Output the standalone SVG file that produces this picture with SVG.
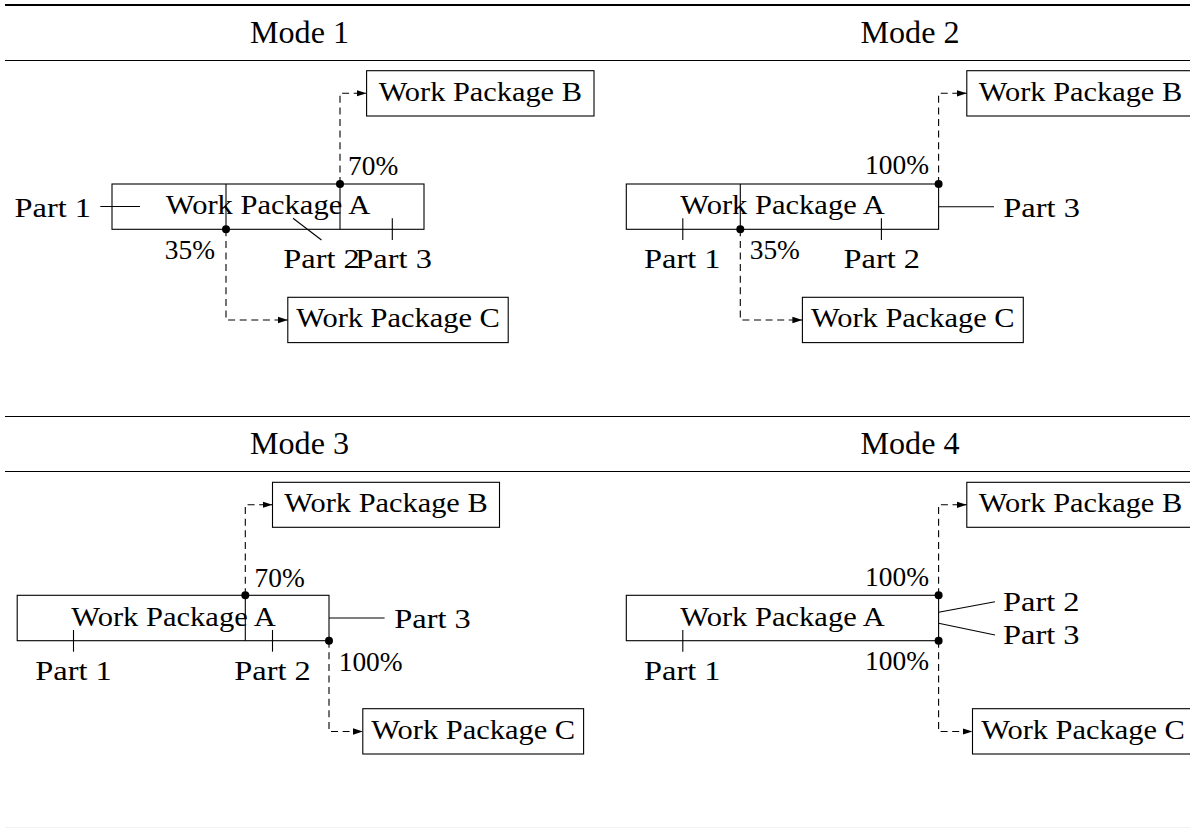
<svg xmlns="http://www.w3.org/2000/svg" width="1190" height="828" viewBox="0 0 1190 828">
  <style>
    .bg { fill: #ffffff; }
    .rule { stroke: #000; fill: none; }
    .box { fill: none; stroke: #000; stroke-width: 1.1; }
    .ln { fill: none; stroke: #000; stroke-width: 1.1; }
    .dash { fill: none; stroke: #000; stroke-width: 1.1; stroke-dasharray: 7 4.6; marker-end: url(#arr); }
    .dot { fill: #000; }
    text { font-family: "Liberation Serif", "DejaVu Serif", serif; fill: #000; }
    .t { font-size: 28px; }
    .h { font-size: 31px; }
    .m { text-anchor: middle; }
    .e { text-anchor: end; }
  </style>
  <defs>
    <marker id="arr" markerUnits="userSpaceOnUse" markerWidth="11" markerHeight="8" refX="10" refY="4" orient="auto">
      <path d="M0,0.8 L10,4 L0,7.2 Z" fill="#000"/>
    </marker>
  </defs>

  <rect class="bg" x="0" y="0" width="1190" height="828"/>

  <!-- table rules -->
  <g id="rules">
    <line class="rule" x1="5" y1="5" x2="1190" y2="5" stroke-width="2"/>
    <line class="rule" x1="5" y1="60.5" x2="1190" y2="60.5" stroke-width="1.2"/>
    <line class="rule" x1="5" y1="416.5" x2="1190" y2="416.5" stroke-width="1.2"/>
    <line class="rule" x1="5" y1="471.5" x2="1190" y2="471.5" stroke-width="1.2"/>
    <line x1="5" y1="827.5" x2="1190" y2="827.5" stroke="#f2f2f2" stroke-width="1"/>
  </g>

  <!-- headings -->
  <g id="headings">
    <text class="h m" x="299.5" y="43.3" textLength="99" lengthAdjust="spacingAndGlyphs">Mode 1</text>
    <text class="h m" x="910" y="43.3" textLength="99" lengthAdjust="spacingAndGlyphs">Mode 2</text>
    <text class="h m" x="299.5" y="454.3" textLength="99" lengthAdjust="spacingAndGlyphs">Mode 3</text>
    <text class="h m" x="910" y="454.3" textLength="99" lengthAdjust="spacingAndGlyphs">Mode 4</text>
  </g>

  <!-- ===== Mode 1 ===== -->
  <g id="m1-wpA">
    <rect class="box" x="112" y="184" width="312" height="45.3"/>
    <line class="ln" x1="226" y1="184" x2="226" y2="229.3"/>
    <line class="ln" x1="340" y1="184" x2="340" y2="229.3"/>
    <text class="t m" x="268" y="214" textLength="204.4" lengthAdjust="spacingAndGlyphs">Work Package A</text>
  </g>
  <g id="m1-wpB">
    <rect class="box" x="366.6" y="70.7" width="227.4" height="45.3"/>
    <text class="t m" x="480.3" y="101" textLength="203.3" lengthAdjust="spacingAndGlyphs">Work Package B</text>
  </g>
  <g id="m1-wpC">
    <rect class="box" x="287.8" y="297.3" width="220.4" height="45.3"/>
    <text class="t m" x="398" y="327" textLength="203.7" lengthAdjust="spacingAndGlyphs">Work Package C</text>
  </g>
  <g id="m1-part1">
    <line class="ln" x1="140" y1="206.5" x2="100.3" y2="206.5"/>
    <text class="t" x="14.5" y="216.7" textLength="76.6" lengthAdjust="spacingAndGlyphs">Part 1</text>
  </g>
  <g id="m1-part2">
    <line class="ln" x1="293" y1="218.3" x2="321.5" y2="240"/>
    <text class="t m" x="321.5" y="268" textLength="76.6" lengthAdjust="spacingAndGlyphs">Part 2</text>
  </g>
  <g id="m1-part3">
    <line class="ln" x1="392.3" y1="218.3" x2="392.3" y2="240"/>
    <text class="t m" x="393.6" y="268" textLength="76.6" lengthAdjust="spacingAndGlyphs">Part 3</text>
  </g>

  <!-- ===== Mode 2 ===== -->
  <g id="m2-wpA">
    <rect class="box" x="626.3" y="184" width="312.3" height="45.3"/>
    <line class="ln" x1="740.3" y1="184" x2="740.3" y2="229.3"/>
    <text class="t m" x="782.5" y="214" textLength="204.4" lengthAdjust="spacingAndGlyphs">Work Package A</text>
  </g>
  <g id="m2-wpB">
    <rect class="box" x="966.8" y="70.7" width="227.4" height="45.3"/>
    <text class="t m" x="1080.5" y="101" textLength="203.3" lengthAdjust="spacingAndGlyphs">Work Package B</text>
  </g>
  <g id="m2-wpC">
    <rect class="box" x="802.4" y="297.3" width="220.9" height="45.3"/>
    <text class="t m" x="912.8" y="327" textLength="203.7" lengthAdjust="spacingAndGlyphs">Work Package C</text>
  </g>
  <g id="m2-part1">
    <line class="ln" x1="682.8" y1="218.3" x2="682.8" y2="240"/>
    <text class="t m" x="682.3" y="268" textLength="76.6" lengthAdjust="spacingAndGlyphs">Part 1</text>
  </g>
  <g id="m2-part2">
    <line class="ln" x1="881.4" y1="218.3" x2="881.4" y2="240"/>
    <text class="t m" x="881.8" y="268" textLength="76.6" lengthAdjust="spacingAndGlyphs">Part 2</text>
  </g>
  <g id="m2-part3">
    <line class="ln" x1="938.6" y1="206.7" x2="994" y2="206.7"/>
    <text class="t" x="1003.3" y="216.7" textLength="76.6" lengthAdjust="spacingAndGlyphs">Part 3</text>
  </g>

  <!-- ===== Mode 3 ===== -->
  <g id="m3-wpA">
    <rect class="box" x="17.2" y="595.3" width="311.8" height="45.4"/>
    <line class="ln" x1="245.3" y1="595.3" x2="245.3" y2="640.7"/>
    <text class="t m" x="173.5" y="625.5" textLength="204.4" lengthAdjust="spacingAndGlyphs">Work Package A</text>
  </g>
  <g id="m3-wpB">
    <rect class="box" x="272.5" y="482.3" width="227" height="45"/>
    <text class="t m" x="386" y="512.3" textLength="203.3" lengthAdjust="spacingAndGlyphs">Work Package B</text>
  </g>
  <g id="m3-wpC">
    <rect class="box" x="362.8" y="708.7" width="220.8" height="45.3"/>
    <text class="t m" x="473.2" y="738.5" textLength="203.7" lengthAdjust="spacingAndGlyphs">Work Package C</text>
  </g>
  <g id="m3-part1">
    <line class="ln" x1="73.5" y1="630" x2="73.5" y2="651.7"/>
    <text class="t m" x="73.5" y="679.5" textLength="76.6" lengthAdjust="spacingAndGlyphs">Part 1</text>
  </g>
  <g id="m3-part2">
    <line class="ln" x1="272.5" y1="630" x2="272.5" y2="651.7"/>
    <text class="t m" x="272.5" y="679.5" textLength="76.6" lengthAdjust="spacingAndGlyphs">Part 2</text>
  </g>
  <g id="m3-part3">
    <line class="ln" x1="329" y1="618" x2="384.6" y2="618"/>
    <text class="t" x="394.2" y="628" textLength="76.6" lengthAdjust="spacingAndGlyphs">Part 3</text>
  </g>

  <!-- ===== Mode 4 ===== -->
  <g id="m4-wpA">
    <rect class="box" x="626.3" y="595.3" width="312.3" height="45.4"/>
    <text class="t m" x="782.5" y="625.5" textLength="204.4" lengthAdjust="spacingAndGlyphs">Work Package A</text>
  </g>
  <g id="m4-wpB">
    <rect class="box" x="966.8" y="482.3" width="227.4" height="45"/>
    <text class="t m" x="1080.5" y="512.3" textLength="203.3" lengthAdjust="spacingAndGlyphs">Work Package B</text>
  </g>
  <g id="m4-wpC">
    <rect class="box" x="972.5" y="708.7" width="220.9" height="45.3"/>
    <text class="t m" x="1083" y="738.5" textLength="203.7" lengthAdjust="spacingAndGlyphs">Work Package C</text>
  </g>
  <g id="m4-part1">
    <line class="ln" x1="682.8" y1="630" x2="682.8" y2="651.7"/>
    <text class="t m" x="682.3" y="679.5" textLength="76.6" lengthAdjust="spacingAndGlyphs">Part 1</text>
  </g>
  <g id="m4-part2">
    <line class="ln" x1="938.6" y1="612.3" x2="995" y2="601.7"/>
    <text class="t" x="1003" y="611" textLength="76.6" lengthAdjust="spacingAndGlyphs">Part 2</text>
  </g>
  <g id="m4-part3">
    <line class="ln" x1="938.6" y1="623.3" x2="995" y2="635"/>
    <text class="t" x="1003" y="644" textLength="76.6" lengthAdjust="spacingAndGlyphs">Part 3</text>
  </g>

  <!-- split connectors: dashed flows from Work Package A into B and C -->
  <g id="connectors">
    <path class="dash" d="M340,184 V93.3 H366.6"/>
    <path class="dash" d="M226,229.3 V320 H287.8"/>
    <path class="dash" d="M938.6,184 V93.3 H966.8"/>
    <path class="dash" d="M740.3,229.3 V320 H802.4"/>
    <path class="dash" d="M245.3,595.3 V504.8 H272.5"/>
    <path class="dash" d="M329,640.7 V731.5 H362.8"/>
    <path class="dash" d="M938.6,595.3 V504.8 H966.8"/>
    <path class="dash" d="M938.6,640.7 V731.5 H972.5"/>

    <circle class="dot" cx="340" cy="184" r="4"/>
    <circle class="dot" cx="226" cy="229.3" r="4"/>
    <circle class="dot" cx="938.6" cy="184" r="4"/>
    <circle class="dot" cx="740.3" cy="229.3" r="4"/>
    <circle class="dot" cx="245.3" cy="595.3" r="4"/>
    <circle class="dot" cx="329" cy="640.7" r="4"/>
    <circle class="dot" cx="938.6" cy="595.3" r="4"/>
    <circle class="dot" cx="938.6" cy="640.7" r="4"/>

    <text class="t" x="348" y="175" textLength="50.2" lengthAdjust="spacingAndGlyphs">70%</text>
    <text class="t e" x="215" y="259" textLength="50.2" lengthAdjust="spacingAndGlyphs">35%</text>
    <text class="t e" x="929" y="174" textLength="63.9" lengthAdjust="spacingAndGlyphs">100%</text>
    <text class="t" x="749.7" y="259.3" textLength="50.2" lengthAdjust="spacingAndGlyphs">35%</text>
    <text class="t" x="254.5" y="586.7" textLength="50.2" lengthAdjust="spacingAndGlyphs">70%</text>
    <text class="t" x="338.7" y="671" textLength="63.9" lengthAdjust="spacingAndGlyphs">100%</text>
    <text class="t e" x="929" y="585.5" textLength="63.9" lengthAdjust="spacingAndGlyphs">100%</text>
    <text class="t e" x="929" y="670" textLength="63.9" lengthAdjust="spacingAndGlyphs">100%</text>
  </g>
</svg>
